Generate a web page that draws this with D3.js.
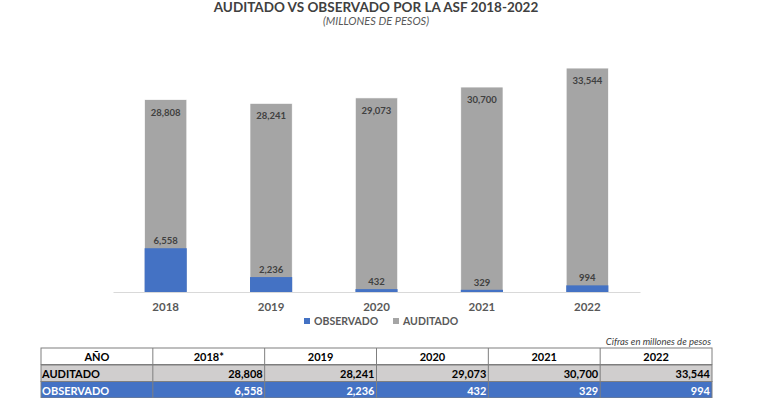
<!DOCTYPE html>
<html>
<head>
    <meta charset="utf-8">
    <style>
        body { margin: 0; background: #fff; }
        svg { display: block; font-family: Lato, 'Open Sans', sans-serif; }
    </style>
    <title>Auditado vs Observado</title>
</head>
<body>
    <svg width="758" height="398"></svg>
<script src="https://d3js.org/d3.v7.min.js"></script>
<script>
    // values (millones de pesos)
    let years = ['2018', '2019', '2020', '2021', '2022']
    let tableYears = ['2018*', '2019', '2020', '2021', '2022']
    let auditado = [28808, 28241, 29073, 30700, 33544]
    let observado = [6558, 2236, 432, 329, 994]
    let series = ['OBSERVADO', 'AUDITADO']

    let blue = '#4472c4'
    let gray = '#a5a5a5'
    let fmt = d3.format(',')

    let svg = d3.select('svg')

    // titles
    svg.append('text')
        .attr('x', 376).attr('y', 12)
        .attr('text-anchor', 'middle')
        .attr('font-size', 13.5).attr('font-weight', 'bold')
        .attr('fill', '#404040')
        .text('AUDITADO VS OBSERVADO POR LA ASF 2018-2022')

    svg.append('text')
        .attr('x', 376).attr('y', 25)
        .attr('text-anchor', 'middle')
        .attr('font-size', 11).attr('font-style', 'italic')
        .attr('fill', '#595959')
        .text('(MILLONES DE PESOS)')

    let x = d3.scaleBand().domain(years).range([113, 640]).paddingInner(0.6).paddingOuter(0.3)
    let y = d3.scaleLinear().domain([0, 40000]).range([292, 25])

    // auditado bars (full), observado drawn on top from the baseline
    let g = svg.append('g')
    g.selectAll('.aud')
        .data(years)
        .join('rect')
        .attr('x', d => x(d))
        .attr('width', x.bandwidth())
        .attr('y', (d, i) => y(auditado[i]))
        .attr('height', (d, i) => y(0) - y(auditado[i]))
        .attr('fill', gray)
        .attr('stroke', '#fff').attr('stroke-width', 0.6)

    g.selectAll('.obs')
        .data(years)
        .join('rect')
        .attr('x', d => x(d))
        .attr('width', x.bandwidth())
        .attr('y', (d, i) => y(observado[i]))
        .attr('height', (d, i) => y(0) - y(observado[i]))
        .attr('fill', blue)

    g.selectAll('.audlabel')
        .data(years)
        .join('text')
        .attr('x', d => x(d) + x.bandwidth() / 2)
        .attr('y', (d, i) => y(auditado[i]) + 16)
        .attr('text-anchor', 'middle')
        .attr('font-size', 9.5).attr('font-weight', 'bold')
        .attr('fill', '#404040')
        .text((d, i) => fmt(auditado[i]))

    g.selectAll('.obslabel')
        .data(years)
        .join('text')
        .attr('x', d => x(d) + x.bandwidth() / 2)
        .attr('y', (d, i) => y(observado[i]) - 4)
        .attr('text-anchor', 'middle')
        .attr('font-size', 9.5).attr('font-weight', 'bold')
        .attr('fill', '#404040')
        .text((d, i) => fmt(observado[i]))

    // category axis
    let axis = svg.append('g')
        .attr('transform', `translate(0,${y(0)})`)
        .call(d3.axisBottom(x).tickSize(0).tickPadding(11))
    axis.select('.domain').attr('stroke', '#d9d9d9')
    axis.selectAll('text')
        .attr('font-family', 'Lato, sans-serif')
        .attr('font-size', 11.5).attr('font-weight', 'bold')
        .attr('fill', '#595959')

    // legend
    let legendX = [304, 393]
    let legend = svg.append('g').selectAll('g')
        .data(series)
        .join('g')
        .attr('transform', (d, i) => `translate(${legendX[i]},325)`)
    legend.append('rect')
        .attr('x', 0).attr('y', -7)
        .attr('width', 6).attr('height', 6)
        .attr('fill', (d, i) => i == 0 ? blue : gray)
    legend.append('text')
        .attr('x', 10).attr('y', 0)
        .attr('font-size', 10.5).attr('font-weight', 'bold')
        .attr('fill', '#595959')
        .text(d => d)

    // table below
    svg.append('text')
        .attr('x', 711).attr('y', 345)
        .attr('text-anchor', 'end')
        .attr('font-size', 9.5).attr('font-style', 'italic')
        .attr('fill', '#404040')
        .text('Cifras en millones de pesos')

    let cols = d3.scaleBand().domain(d3.range(6)).range([41, 712])
    let rowY = [348, 365, 381.5]
    let rowH = 16.5

    let rows = [
        { label: 'AÑO', cells: tableYears, fill: '#fff', color: '#000' },
        { label: 'AUDITADO', cells: auditado.map(fmt), fill: '#d0cece', color: '#000' },
        { label: 'OBSERVADO', cells: observado.map(fmt), fill: blue, color: '#fff' }
    ]

    let tg = svg.append('g')
    rows.forEach((r, ri) => {
        tg.append('rect')
            .attr('x', cols(0)).attr('y', rowY[ri])
            .attr('width', cols.range()[1] - cols.range()[0]).attr('height', rowH)
            .attr('fill', r.fill)
            .attr('stroke', '#7f7f7f').attr('stroke-width', 1)
        let texts = [r.label].concat(r.cells)
        texts.forEach((t, ci) => {
            if (ci > 0) {
                tg.append('line')
                    .attr('x1', cols(ci)).attr('x2', cols(ci))
                    .attr('y1', rowY[ri]).attr('y2', rowY[ri] + rowH)
                    .attr('stroke', '#7f7f7f')
            }
            let header = ri == 0
            let tx = header ? cols(ci) + cols.bandwidth() / 2 : (ci == 0 ? cols(0) + 1 : cols(ci) + cols.bandwidth() - 2)
            tg.append('text')
                .attr('x', tx).attr('y', rowY[ri] + 13)
                .attr('text-anchor', header ? 'middle' : (ci == 0 ? 'start' : 'end'))
                .attr('font-size', 11).attr('font-weight', 'bold')
                .attr('fill', r.color)
                .text(t)
        })
    })
</script>
</body>
</html>
